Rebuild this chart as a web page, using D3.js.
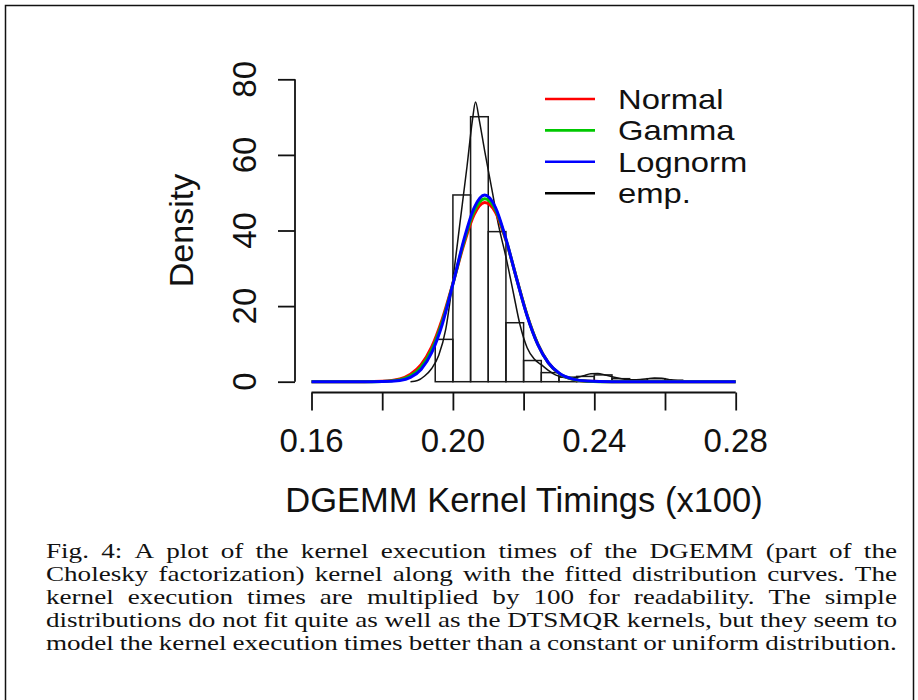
<!DOCTYPE html>
<html>
<head>
<meta charset="utf-8">
<script src="https://cdn.jsdelivr.net/npm/d3@7"></script>
<style>
  html, body { margin: 0; padding: 0; background: #fff; }
  svg { display: block; }
</style>
</head>
<body>
<svg id="chart" width="918" height="700"></svg>
<script>
// ---------------- DATA ----------------
const xTicks = [0.16, 0.18, 0.20, 0.22, 0.24, 0.26, 0.28];
const xTickLabels = ["0.16", "", "0.20", "", "0.24", "", "0.28"];
const yTicks = [0, 20, 40, 60, 80];
const yTickLabels = ["0", "20", "40", "60", "80"];

// histogram (bin start, bin end, density)
const binStart = [0.195, 0.200, 0.205, 0.210, 0.215, 0.220, 0.225, 0.230, 0.235, 0.240, 0.245, 0.250, 0.255, 0.260];
const binEnd   = [0.200, 0.205, 0.210, 0.215, 0.220, 0.225, 0.230, 0.235, 0.240, 0.245, 0.250, 0.255, 0.260, 0.265];
const binDensity = [11.2, 49.4, 70.1, 39.7, 15.6, 5.6, 2.4, 1.2, 1.4, 1.8, 0.8, 0.4, 0.8, 0.4];

// empirical density curve
const empX = [0.188, 0.190, 0.192, 0.194, 0.196, 0.198, 0.200, 0.202, 0.204, 0.2055, 0.2064, 0.2075, 0.209, 0.211, 0.213, 0.215, 0.217, 0.219, 0.221, 0.223, 0.225, 0.227, 0.229, 0.231, 0.233, 0.235, 0.237, 0.239, 0.241, 0.243, 0.245, 0.247, 0.249, 0.251, 0.253, 0.255, 0.257, 0.259, 0.261, 0.263, 0.266];
const empY = [0, 0.3, 1.5, 3.5, 7, 14, 27, 42, 57, 69, 74, 69, 61, 51, 41, 33, 24, 15, 9, 6, 4.5, 3, 1.8, 1.2, 1.0, 1.1, 1.6, 2.1, 2.2, 1.8, 1.3, 0.9, 0.6, 0.5, 0.6, 0.8, 1.0, 0.9, 0.6, 0.3, 0];

// fitted curves
const fitX       = [0.160, 0.170, 0.175, 0.180, 0.185, 0.188, 0.191, 0.194, 0.197, 0.200, 0.203, 0.206, 0.209, 0.212, 0.215, 0.218, 0.221, 0.224, 0.227, 0.230, 0.234, 0.238, 0.245, 0.255, 0.280];
const normalY    = [0, 0, 0.01, 0.12, 0.75, 1.98, 4.5, 9.2, 16.6, 26.0, 36.0, 44.2, 47.4, 44.9, 37.4, 27.4, 17.6, 10.0, 5.0, 2.2, 0.61, 0.13, 0.005, 0, 0];
const gammaY     = [0, 0, 0.005, 0.07, 0.55, 1.55, 3.85, 8.4, 15.9, 25.9, 36.6, 45.1, 48.4, 45.6, 37.6, 27.35, 17.5, 9.95, 5.0, 2.25, 0.65, 0.15, 0.008, 0, 0];
const lognormY   = [0, 0, 0, 0.03, 0.34, 1.15, 3.24, 7.67, 15.2, 25.8, 37.2, 46.0, 49.4, 46.2, 37.8, 27.3, 17.4, 9.87, 5.01, 2.29, 0.68, 0.17, 0.01, 0, 0];

const legendLabels = ["Normal", "Gamma", "Lognorm", "emp."];
const legendColors = ["#ff0000", "#00c800", "#0000ff", "#000000"];

const xTitle = "DGEMM Kernel Timings (x100)";
const yTitle = "Density";
const captionLines = [
  "Fig. 4: A plot of the kernel execution times of the DGEMM (part of the",
  "Cholesky factorization) kernel along with the fitted distribution curves. The",
  "kernel execution times are multiplied by 100 for readability. The simple",
  "distributions do not fit quite as well as the DTSMQR kernels, but they seem to",
  "model the kernel execution times better than a constant or uniform distribution."
];

// ---------------- DRAW ----------------
const svg = d3.select("#chart");
const sans = "'Liberation Sans', Arial, Helvetica, sans-serif";
const serif = "'Liberation Serif', 'Times New Roman', Times, serif";

// page frame
svg.append("path")
  .attr("d", "M5.5,702 L5.5,5.5 L913.5,5.5 L913.5,702")
  .attr("fill", "none").attr("stroke", "#111").attr("stroke-width", 1.5);

const x = d3.scaleLinear().domain([0.16, 0.28]).range([311.5, 735.7]);
const y = d3.scaleLinear().domain([0, 80]).range([381.7, 79.3]);

// histogram
svg.append("g").selectAll("rect")
  .data(binDensity)
  .join("rect")
  .attr("x", (d, i) => x(binStart[i]))
  .attr("width", (d, i) => x(binEnd[i]) - x(binStart[i]))
  .attr("y", d => y(d))
  .attr("height", d => y(0) - y(d))
  .attr("fill", "none")
  .attr("stroke", "#1a1a1a")
  .attr("stroke-width", 1.5);

// empirical density
const lineEmp = d3.line().x(d => x(d[0])).y(d => y(d[1])).curve(d3.curveMonotoneX);
svg.append("path")
  .attr("d", lineEmp(empX.map((v, i) => [v, empY[i]])))
  .attr("fill", "none").attr("stroke", "#111").attr("stroke-width", 1.5);

// fitted curves
const fitLine = d3.line().x(d => x(d[0])).y(d => y(d[1])).curve(d3.curveMonotoneX);
const fits = [[normalY, legendColors[0]], [gammaY, legendColors[1]], [lognormY, legendColors[2]]];
fits.forEach(([vals, col]) => {
  svg.append("path")
    .attr("d", fitLine(fitX.map((v, i) => [v, vals[i]])))
    .attr("fill", "none").attr("stroke", col).attr("stroke-width", 3)
    .attr("stroke-linejoin", "round");
});

// x axis
const xAxis = d3.axisBottom(x).tickValues(xTicks).tickSize(18).tickFormat("");
const gx = svg.append("g").attr("transform", "translate(0,392.5)").call(xAxis);
gx.select(".domain").attr("stroke", "#111").attr("stroke-width", 1.8).attr("d", `M${x(0.16)},0H${x(0.28)}`);
gx.selectAll(".tick line").attr("stroke", "#111").attr("stroke-width", 1.8);
svg.append("g").selectAll("text")
  .data(xTicks)
  .join("text")
  .attr("x", d => x(d))
  .attr("y", 452)
  .attr("text-anchor", "middle")
  .attr("font-family", sans).attr("font-size", 33).attr("fill", "#111")
  .text((d, i) => xTickLabels[i]);

// y axis
const yAxis = d3.axisLeft(y).tickValues(yTicks).tickSize(17).tickFormat("");
const gy = svg.append("g").attr("transform", "translate(295,0)").call(yAxis);
gy.select(".domain").attr("stroke", "#111").attr("stroke-width", 1.8).attr("d", `M0,${y(0)}V${y(80)}`);
gy.selectAll(".tick line").attr("stroke", "#111").attr("stroke-width", 1.8);
svg.append("g").selectAll("text")
  .data(yTicks)
  .join("text")
  .attr("transform", d => `translate(256,${y(d)}) rotate(-90)`)
  .attr("text-anchor", "middle")
  .attr("font-family", sans).attr("font-size", 33).attr("fill", "#111")
  .text((d, i) => yTickLabels[i]);

// axis titles
svg.append("text")
  .attr("x", 524).attr("y", 512)
  .attr("text-anchor", "middle")
  .attr("font-family", sans).attr("font-size", 34.5).attr("fill", "#111")
  .text(xTitle);
svg.append("text")
  .attr("transform", `translate(193,${(y(0) + y(80)) / 2}) rotate(-90)`)
  .attr("text-anchor", "middle")
  .attr("font-family", sans).attr("font-size", 34).attr("fill", "#111")
  .text(yTitle);

// legend
const leg = svg.append("g");
legendLabels.forEach((lab, i) => {
  const ly = 99 + i * 31.4;
  leg.append("line").attr("x1", 545).attr("x2", 595).attr("y1", ly).attr("y2", ly)
    .attr("stroke", legendColors[i]).attr("stroke-width", 2.6);
  leg.append("text")
    .attr("transform", `translate(618,${ly + 10}) scale(1.17,1)`)
    .attr("font-family", sans).attr("font-size", 28).attr("fill", "#111")
    .text(lab);
});

// caption (justified)
const capLeft = 46, capRight = 897, capFont = 20.5;
const capBase = [558, 581, 604, 627, 650];
const measure = svg.append("text").attr("font-family", serif).attr("font-size", capFont).attr("visibility", "hidden");
function wordWidth(w) { measure.text(w); return measure.node().getComputedTextLength(); }
const lineWords = captionLines.map(l => l.split(" "));
const lineWidths = lineWords.map(ws => ws.map(wordWidth));
// common horizontal scale so the densest line fills the width with tight spaces
const minSpace = capFont * 0.22;
let sx = Infinity;
lineWidths.forEach(ws => {
  const need = d3.sum(ws) + minSpace * (ws.length - 1);
  sx = Math.min(sx, (capRight - capLeft) / need);
});
measure.remove();
const capG = svg.append("g").attr("transform", `translate(${capLeft},0) scale(${sx},1)`);
const avail = (capRight - capLeft) / sx;
lineWords.forEach((ws, li) => {
  const widths = lineWidths[li];
  const gap = (avail - d3.sum(widths)) / (ws.length - 1);
  const t = capG.append("text").attr("y", capBase[li])
    .attr("font-family", serif).attr("font-size", capFont).attr("fill", "#111");
  let cx = 0;
  ws.forEach((w, wi) => {
    t.append("tspan").attr("x", cx).text(w);
    cx += widths[wi] + gap;
  });
});
</script>
</body>
</html>
